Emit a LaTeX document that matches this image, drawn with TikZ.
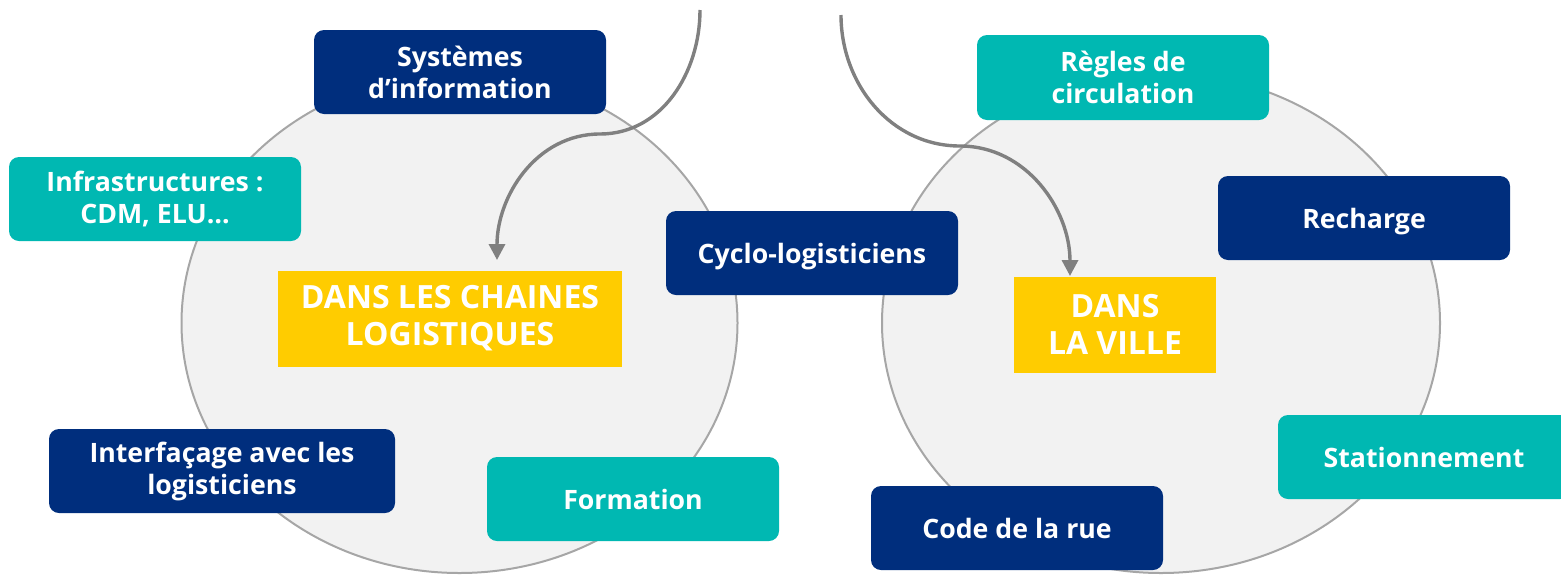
\documentclass[tikz,border=0pt]{standalone}
\usepackage{fontspec}
\setmainfont{Open Sans}
\usetikzlibrary{arrows.meta}
\definecolor{darkblue}{RGB}{0,46,125}
\definecolor{teal}{RGB}{0,184,178}
\definecolor{gold}{RGB}{255,204,0}
\definecolor{zonefill}{RGB}{242,242,242}
\definecolor{zoneline}{RGB}{166,166,166}
\definecolor{linkgray}{RGB}{128,128,128}
\tikzset{
  topic/.style={rounded corners=10pt, inner sep=0pt, minimum width=292pt,
    minimum height=84pt, align=center, text=white,
    font=\fontsize{26.7}{32}\selectfont\bfseries},
  oneline/.style={text height=20pt, text depth=0pt},
  darktopic/.style={topic, fill=darkblue},
  tealtopic/.style={topic, fill=teal},
  theme/.style={fill=gold, inner sep=0pt, minimum height=96pt, align=center,
    text=white, font=\fontsize{32}{37}\selectfont\bfseries},
  zone/.style={fill=zonefill, draw=zoneline, line width=2pt},
  link/.style={draw=linkgray, line width=3.4pt,
    -{Triangle[length=16pt,width=16pt]}}
}
\begin{document}
\begin{tikzpicture}[x=1pt,y=-1pt]
  \useasboundingbox (0,0) rectangle (1561,574);
  % the two zones
  \draw[zone] (459.5,323) ellipse [x radius=278, y radius=250];
  \draw[zone] (1161,323) ellipse [x radius=279, y radius=250];
  % themes
  \node[theme, minimum width=344pt] (chains) at (450,318.5)
    {DANS LES CHAINES\\LOGISTIQUES};
  \node[theme, minimum width=202pt] (city) at (1115,324.5) {DANS\\LA VILLE};
  % left zone topics
  \node[darktopic] (infosys) at (460,72) {Systèmes\\d’information};
  \node[tealtopic] (infra) at (155,199) {Infrastructures :\\CDM, ELU…};
  \node[darktopic, oneline] (cyclo) at (812,253) {Cyclo-logisticiens};
  \node[darktopic, minimum width=346pt] (interface) at (222,471)
    {Interfaçage avec les\\logisticiens};
  \node[tealtopic, oneline] (training) at (633,499) {Formation};
  % right zone topics
  \node[tealtopic, minimum height=85pt] (rules) at (1123,77.5)
    {Règles de\\circulation};
  \node[darktopic, oneline] (charging) at (1364,218) {Recharge};
  \node[tealtopic, oneline] (parking) at (1424,457) {Stationnement};
  \node[darktopic, oneline] (code) at (1017,528) {Code de la rue};
  % links coming from above
  \coordinate (leftstart) at (700,10);
  \coordinate (leftbend) at (600,134);
  \coordinate (leftend) at (497,260);
  \coordinate (rightstart) at (841,15);
  \coordinate (rightbend) at (960,146);
  \coordinate (rightend) at (1070,276);
  \draw[link] (leftstart) to[out=-90,in=0] (leftbend)
    to[out=180,in=90] (leftend);
  \draw[link] (rightstart) to[out=-90,in=180] (rightbend)
    to[out=0,in=90] (rightend);
\end{tikzpicture}
\end{document}
